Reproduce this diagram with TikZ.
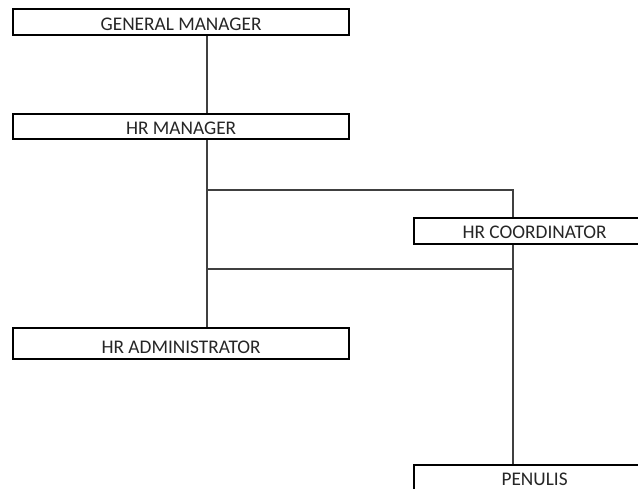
\documentclass[tikz,border=0pt]{standalone}
\usepackage{fontspec}
\setmainfont{Carlito}
\begin{document}
\begin{tikzpicture}[x=1pt,y=-1pt,
  box/.style={draw=black,line width=2.2pt,fill=white,inner sep=0pt,anchor=north west},
  lbl/.style={font=\fontsize{19.3}{22}\selectfont,text=black!85,inner sep=0pt},
  link/.style={draw=black!75,line width=1.3pt}]
\useasboundingbox (0,0) rectangle (638,488);
\clip (0,0) rectangle (638,488);
\coordinate (t1) at (207,0);
\coordinate (t2) at (513,0);
\node[box,minimum width=336pt,minimum height=26pt] (gm) at (12,8) {};
\node[box,minimum width=336pt,minimum height=25pt] (hrm) at (12,113) {};
\node[box,minimum width=241pt,minimum height=26pt] (hrc) at (413,217) {};
\node[box,minimum width=336pt,minimum height=31pt] (hra) at (12,327) {};
\node[box,minimum width=241pt,minimum height=30pt] (pen) at (413,464) {};
\node[lbl] (gmt) at ([yshift=-2pt]gm.center) {GENERAL MANAGER};
\node[lbl] (hrmt) at ([yshift=-1.5pt]hrm.center) {HR MANAGER};
\node[lbl] (hrct) at ([yshift=-1.5pt]hrc.center) {HR COORDINATOR};
\node[lbl] (hrat) at ([yshift=-4pt]hra.center) {HR ADMINISTRATOR};
\node[lbl] (pent) at ([yshift=1pt]pen.center) {PENULIS};
\coordinate (j1) at (207,190);
\coordinate (j2) at (207,269);
\draw[link] (gm.south -| t1) -- (hrm.north -| t1);
\draw[link] (hrm.south -| t1) -- (hra.north -| t1);
\draw[link] (j1) -| (hrc.north -| t2);
\draw[link] (j2) -- (j2 -| t2);
\draw[link] (hrc.south -| t2) -- (pen.north -| t2);
\end{tikzpicture}
\end{document}
